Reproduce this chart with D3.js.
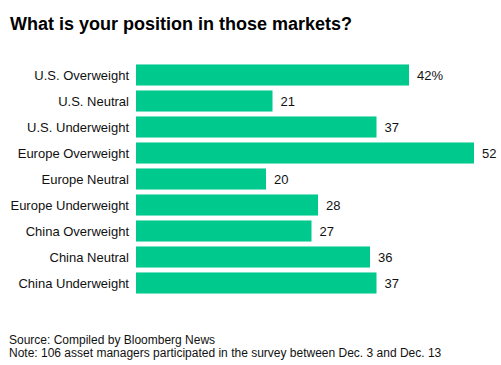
<!DOCTYPE html>
<html><head><meta charset="utf-8">
<script src="https://cdn.jsdelivr.net/npm/d3@7"></script>
<style>body{margin:0;background:#fff}svg{display:block}</style>
</head><body><div id="chart"></div>
<script>
const categories = ["U.S. Overweight","U.S. Neutral","U.S. Underweight","Europe Overweight","Europe Neutral","Europe Underweight","China Overweight","China Neutral","China Underweight"];
const values = [42,21,37,52,20,28,27,36,37];
const valueLabels = ["42%","21","37","52","20","28","27","36","37"];
const title = "What is your position in those markets?";
const notes = ["Source: Compiled by Bloomberg News","Note: 106 asset managers participated in the survey between Dec. 3 and Dec. 13"];

const W = 501, H = 365;
const svg = d3.select("#chart").append("svg").attr("width", W).attr("height", H);
const font = "'Liberation Sans', Arial, sans-serif";

const x = d3.scaleLinear().domain([0, 52]).range([136, 474]);
const y = d3.scaleBand().domain(categories).range([62, 296]).paddingInner(0.19).paddingOuter(0.095);

svg.append("text").attr("x", 10).attr("y", 30).text(title)
  .attr("font-family", font).attr("font-weight", "bold").attr("font-size", 18).attr("fill", "#000");

svg.selectAll("rect.bar").data(values).join("rect").attr("class","bar")
  .attr("x", x(0)).attr("y", (d,i)=>y(categories[i]))
  .attr("width", d=>x(d)-x(0)).attr("height", y.bandwidth())
  .attr("fill", "#00C98D");

svg.selectAll("text.cat").data(categories).join("text").attr("class","cat")
  .attr("x", 129).attr("y", d=>y(d)+y.bandwidth()/2).attr("dy","0.35em")
  .attr("text-anchor","end").attr("font-family", font).attr("font-size", 13).attr("fill","#111")
  .text(d=>d);

svg.selectAll("text.val").data(values).join("text").attr("class","val")
  .attr("x", d=>x(d)+8).attr("y", (d,i)=>y(categories[i])+y.bandwidth()/2).attr("dy","0.35em")
  .attr("font-family", font).attr("font-size", 13).attr("fill","#111")
  .text((d,i)=>valueLabels[i]);

svg.selectAll("text.note").data(notes).join("text").attr("class","note")
  .attr("x", 9).attr("y", (d,i)=>344+i*13)
  .attr("font-family", font).attr("font-size", 12).attr("fill","#111")
  .text(d=>d);
</script></body></html>
